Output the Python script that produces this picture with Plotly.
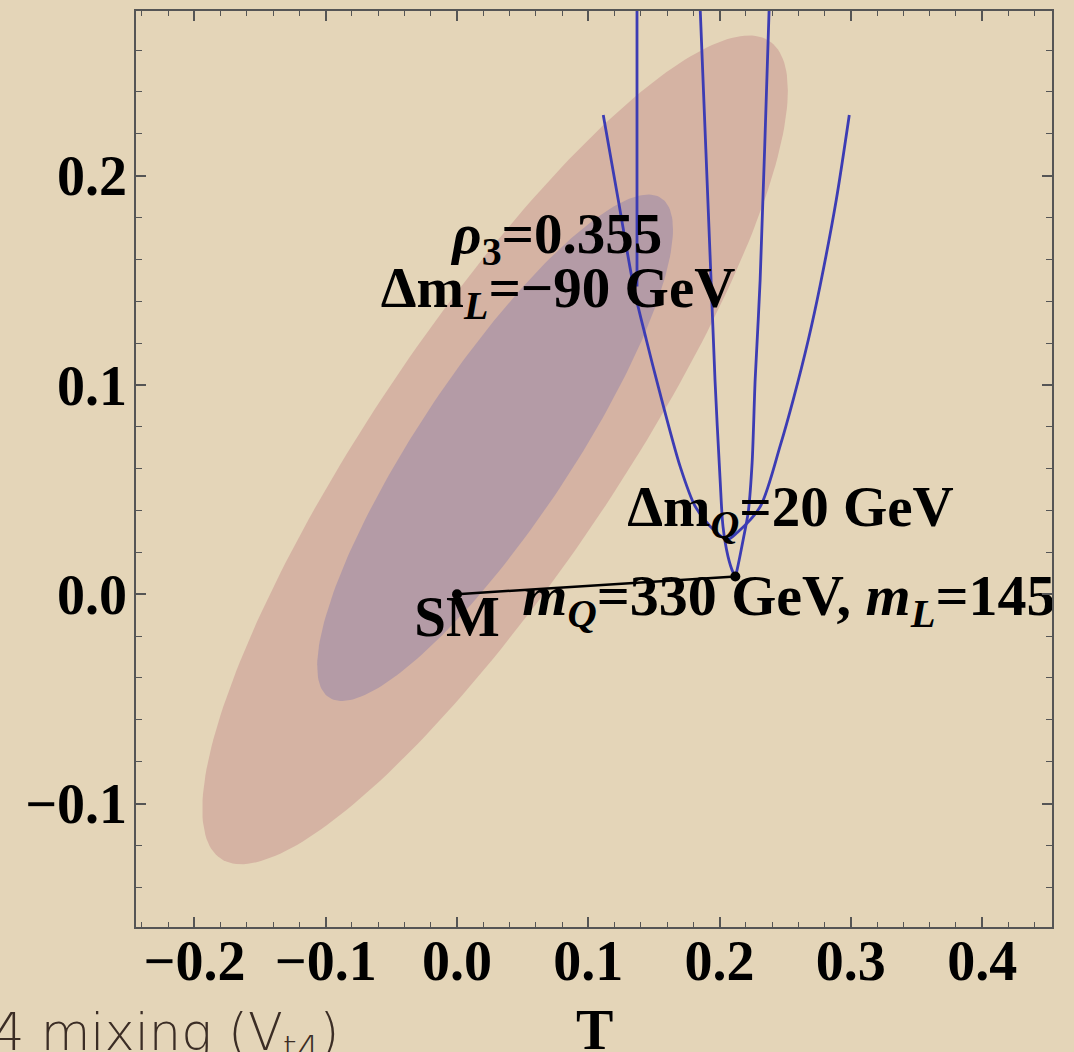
import numpy as np
import plotly.graph_objects as go

# ---- data ----
# confidence ellipses in the S-T plane (centre, widths, correlation)
ell_names = ["95% CL", "68% CL"]
ell_cx = [0.029, 0.029]
ell_cy = [0.069, 0.070]
ell_sx = [0.223, 0.1355]
ell_sy = [0.198, 0.121]
ell_rho = [0.867, 0.862]
ell_colors = ["#d5b3a3", "#b49ba6"]

# wide parabola-like scan curve
W_T = [0.1114, 0.1228, 0.1350, 0.1442, 0.1533, 0.1700, 0.1815, 0.1952, 0.2058,
       0.2135, 0.2310, 0.2462, 0.2561, 0.2676, 0.2767, 0.2889, 0.2988]
W_S = [0.2290, 0.1885, 0.1455, 0.1216, 0.0992, 0.0610, 0.0419, 0.0309, 0.0261,
       0.0295, 0.0419, 0.0710, 0.0930, 0.1216, 0.1479, 0.1885, 0.2290]

# narrow scan curve ending at the benchmark point
N_T = [0.1839, 0.1853, 0.1935, 0.1965, 0.2004, 0.2026, 0.2064, 0.2102, 0.2120,
       0.2134, 0.2180, 0.2218, 0.2248, 0.2271, 0.2309, 0.2377, 0.2390]
N_S = [0.3000, 0.2787, 0.1503, 0.1026, 0.0548, 0.0324, 0.0181, 0.0105, 0.0085,
       0.0119, 0.0262, 0.0391, 0.0630, 0.1026, 0.1503, 0.2787, 0.3000]

# vertical scan line
V_T = [0.1371, 0.1371]
V_S = [0.1470, 0.3000]

# SM point and benchmark point
P_T = [0.0, 0.212]
P_S = [0.0, 0.0085]

x_range = [-0.2445, 0.4532]
y_range = [-0.159, 0.2787]

BG = "#e4d5b8"
BLUE = "#3c3cb4"
FONT = "Liberation Serif"

fig = go.Figure()

t = np.linspace(0, 2 * np.pi, 240)
for name, cx, cy, sx, sy, r, col in zip(ell_names, ell_cx, ell_cy, ell_sx, ell_sy, ell_rho, ell_colors):
    ex = cx + sx * np.cos(t)
    ey = cy + sy * (r * np.cos(t) + np.sqrt(1 - r * r) * np.sin(t))
    fig.add_trace(go.Scatter(x=ex, y=ey, mode="lines", fill="toself", fillcolor=col,
                             line=dict(width=0, color=col), name=name, hoverinfo="skip"))

for xs, ys in [(W_T, W_S), (N_T, N_S), (V_T, V_S)]:
    fig.add_trace(go.Scatter(x=xs, y=ys, mode="lines",
                             line=dict(color=BLUE, width=2.8, shape="spline", smoothing=0.8)))

fig.add_trace(go.Scatter(x=P_T, y=P_S, mode="lines+markers",
                         line=dict(color="black", width=2.5),
                         marker=dict(color="black", size=10)))

# labels (as text traces so they get clipped by the frame)
labels = [
    (0.0764, 0.1698, "<i>ρ</i><sub>3</sub>=0.355", "middle center", 57),
    (0.0770, 0.1440, "Δm<sub><i>L</i></sub>=−90 GeV", "middle center", 57),
    (0.2540, 0.0395, "Δm<sub><i>Q</i></sub>=20 GeV", "middle center", 57),
    (0.0000, -0.0130, "SM", "middle center", 57),
    (0.0497, -0.0030, "<i>m</i><sub><i>Q</i></sub>=330 GeV, <i>m</i><sub><i>L</i></sub>=145 GeV", "middle right", 58),
]
for lx, ly, txt, pos, fs in labels:
    fig.add_trace(go.Scatter(x=[lx], y=[ly], mode="text", text=[txt], textposition=pos,
                             textfont=dict(family=FONT, size=fs, color="black", weight="bold"),
                             cliponaxis=True, hoverinfo="skip"))

axis_common = dict(
    showline=True, linecolor="#555555", linewidth=1.5, mirror="allticks",
    ticks="inside", ticklen=10, tickwidth=1.5, tickcolor="#555555",
    showgrid=False, zeroline=False, tickformat=".1f", automargin=False,
    tickfont=dict(family=FONT, size=56, color="black", weight="bold"),
)

fig.update_xaxes(range=x_range, dtick=0.1, tick0=0, ticklabelstandoff=-16,
                 minor=dict(dtick=0.02, ticklen=5, ticks="inside", tickcolor="#555555", tickwidth=1.2),
                 **axis_common)
fig.update_yaxes(range=y_range, dtick=0.1, tick0=0, ticklabelstandoff=-4,
                 minor=dict(dtick=0.02, ticklen=6, ticks="inside", tickcolor="#555555", tickwidth=1.2),
                 **axis_common)

# x-axis title (as annotation so it can sit partly below the page edge like the reference)
fig.add_annotation(text="T", xref="paper", yref="paper",
                   x=0.5, y=(927 - 1030) / 916, xanchor="center", yanchor="middle",
                   showarrow=False, font=dict(family=FONT, size=56, color="black", weight="bold"))

fig.add_annotation(text="4 mixing (V<sub>t4</sub>)", xref="paper", yref="paper",
                   x=(-10 - 136) / 916, y=(927 - 1036) / 916, xanchor="left", yanchor="middle",
                   showarrow=False, font=dict(family="DejaVu Sans", size=51, color="#3b2d25", weight=200))

fig.update_layout(
    width=1074, height=1052,
    margin=dict(l=136, r=22, t=11, b=125),
    paper_bgcolor=BG, plot_bgcolor=BG,
    showlegend=False,
)

fig.write_html("out.html")
